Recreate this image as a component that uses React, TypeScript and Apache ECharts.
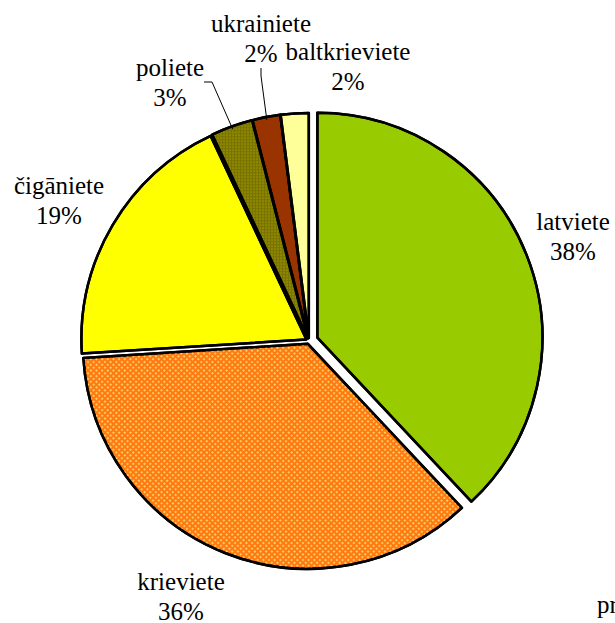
import React, { useEffect, useRef } from "react";
import * as echarts from "echarts";

const names = ["latviete", "krieviete", "čigāniete", "poliete", "ukrainiete", "baltkrieviete"];
const values = [38, 36, 19, 3, 2, 2];
const colors = ["#99CC00", "#FF7A10", "#FFFF00", "#A39C00", "#993300", "#FFFF99"];
const labelPos: number[][] = [
  [573, 236],
  [181, 596],
  [59, 200],
  [170, 82],
  [261, 38],
  [348, 66],
];

const SERIF = "Liberation Serif";

const decals: any[] = [
  null,
  { symbol: "rect", symbolSize: 1, dashArrayX: [2, 2], dashArrayY: [2, 2], rotation: -Math.PI / 4, color: "#FFC860" },
  null,
  { symbol: "circle", symbolSize: 1, dashArrayX: [3, 0], dashArrayY: [3, 0], color: "rgba(90,85,0,0.6)" },
  null,
  null,
];

export default function App() {
  const ref = useRef<HTMLDivElement>(null);
  useEffect(() => {
    if (!ref.current) return;
    const chart = echarts.init(ref.current, undefined, { renderer: "svg" });
    const hidden = { color: "transparent", borderWidth: 0, decal: { symbol: "none" } };
    const mk = (mainIdx: (i: number) => boolean) =>
      names.map((n, i) => {
        const visible = mainIdx(i);
        return {
          name: n,
          value: values[i],
          selected: visible,
          itemStyle: visible
            ? {
                color: colors[i],
                borderColor: "#000",
                borderWidth: 2.5,
                decal: decals[i] || { symbol: "none" },
              }
            : hidden,
        };
      });
    const base = {
      type: "pie",
      center: [309, 341],
      radius: 225,
      startAngle: 90,
      clockwise: true,
      silent: true,
      avoidLabelOverlap: false,
      emphasis: { disabled: true },
    };
    const fontStyle = { fontFamily: SERIF, fontSize: 25, lineHeight: 30, color: "#000", fontWeight: "normal" };
    chart.setOption({
      animation: false,
      textStyle: { fontFamily: SERIF },
      aria: { enabled: false, decal: { show: true } },
      series: [
        {
          ...base,
          selectedMode: "multiple",
          selectedOffset: 3,
          label: { show: false },
          labelLine: { show: false },
          data: mk((i) => i !== 0),
        },
        {
          ...base,
          selectedMode: "multiple",
          selectedOffset: 9,
          label: { show: false },
          labelLine: { show: false },
          data: mk((i) => i === 0),
        },
        {
          ...base,
          selectedMode: false,
          z: 5,
          label: {
            show: true,
            position: "outside",
            formatter: "{t|{b}}\n{t|{c}%}",
            ...fontStyle,
            rich: { t: { ...fontStyle, align: "center" } },
          },
          labelLine: {
            show: false,
            lineStyle: { color: "#000", width: 1 },
            length: 12,
            length2: 8,
          },
          labelLayout: (p: any) => {
            const pos = labelPos[p.dataIndex];
            return { x: pos[0], y: pos[1], align: "center", verticalAlign: "middle" };
          },
          data: names.map((n, i) => ({
            name: n,
            value: values[i],
            itemStyle: hidden,
            labelLine: { show: i === 3 || i === 4 },
          })),
        },
      ],
      graphic: [
        {
          type: "text",
          left: 597,
          top: 592,
          style: { text: "pro", fontFamily: SERIF, fontSize: 25, fill: "#000" },
        },
      ],
    });
    return () => chart.dispose();
  }, []);
  return (
    <div
      ref={ref}
      style={{ position: "absolute", left: 0, top: 0, width: 615, height: 623, background: "#fff" }}
    />
  );
}
